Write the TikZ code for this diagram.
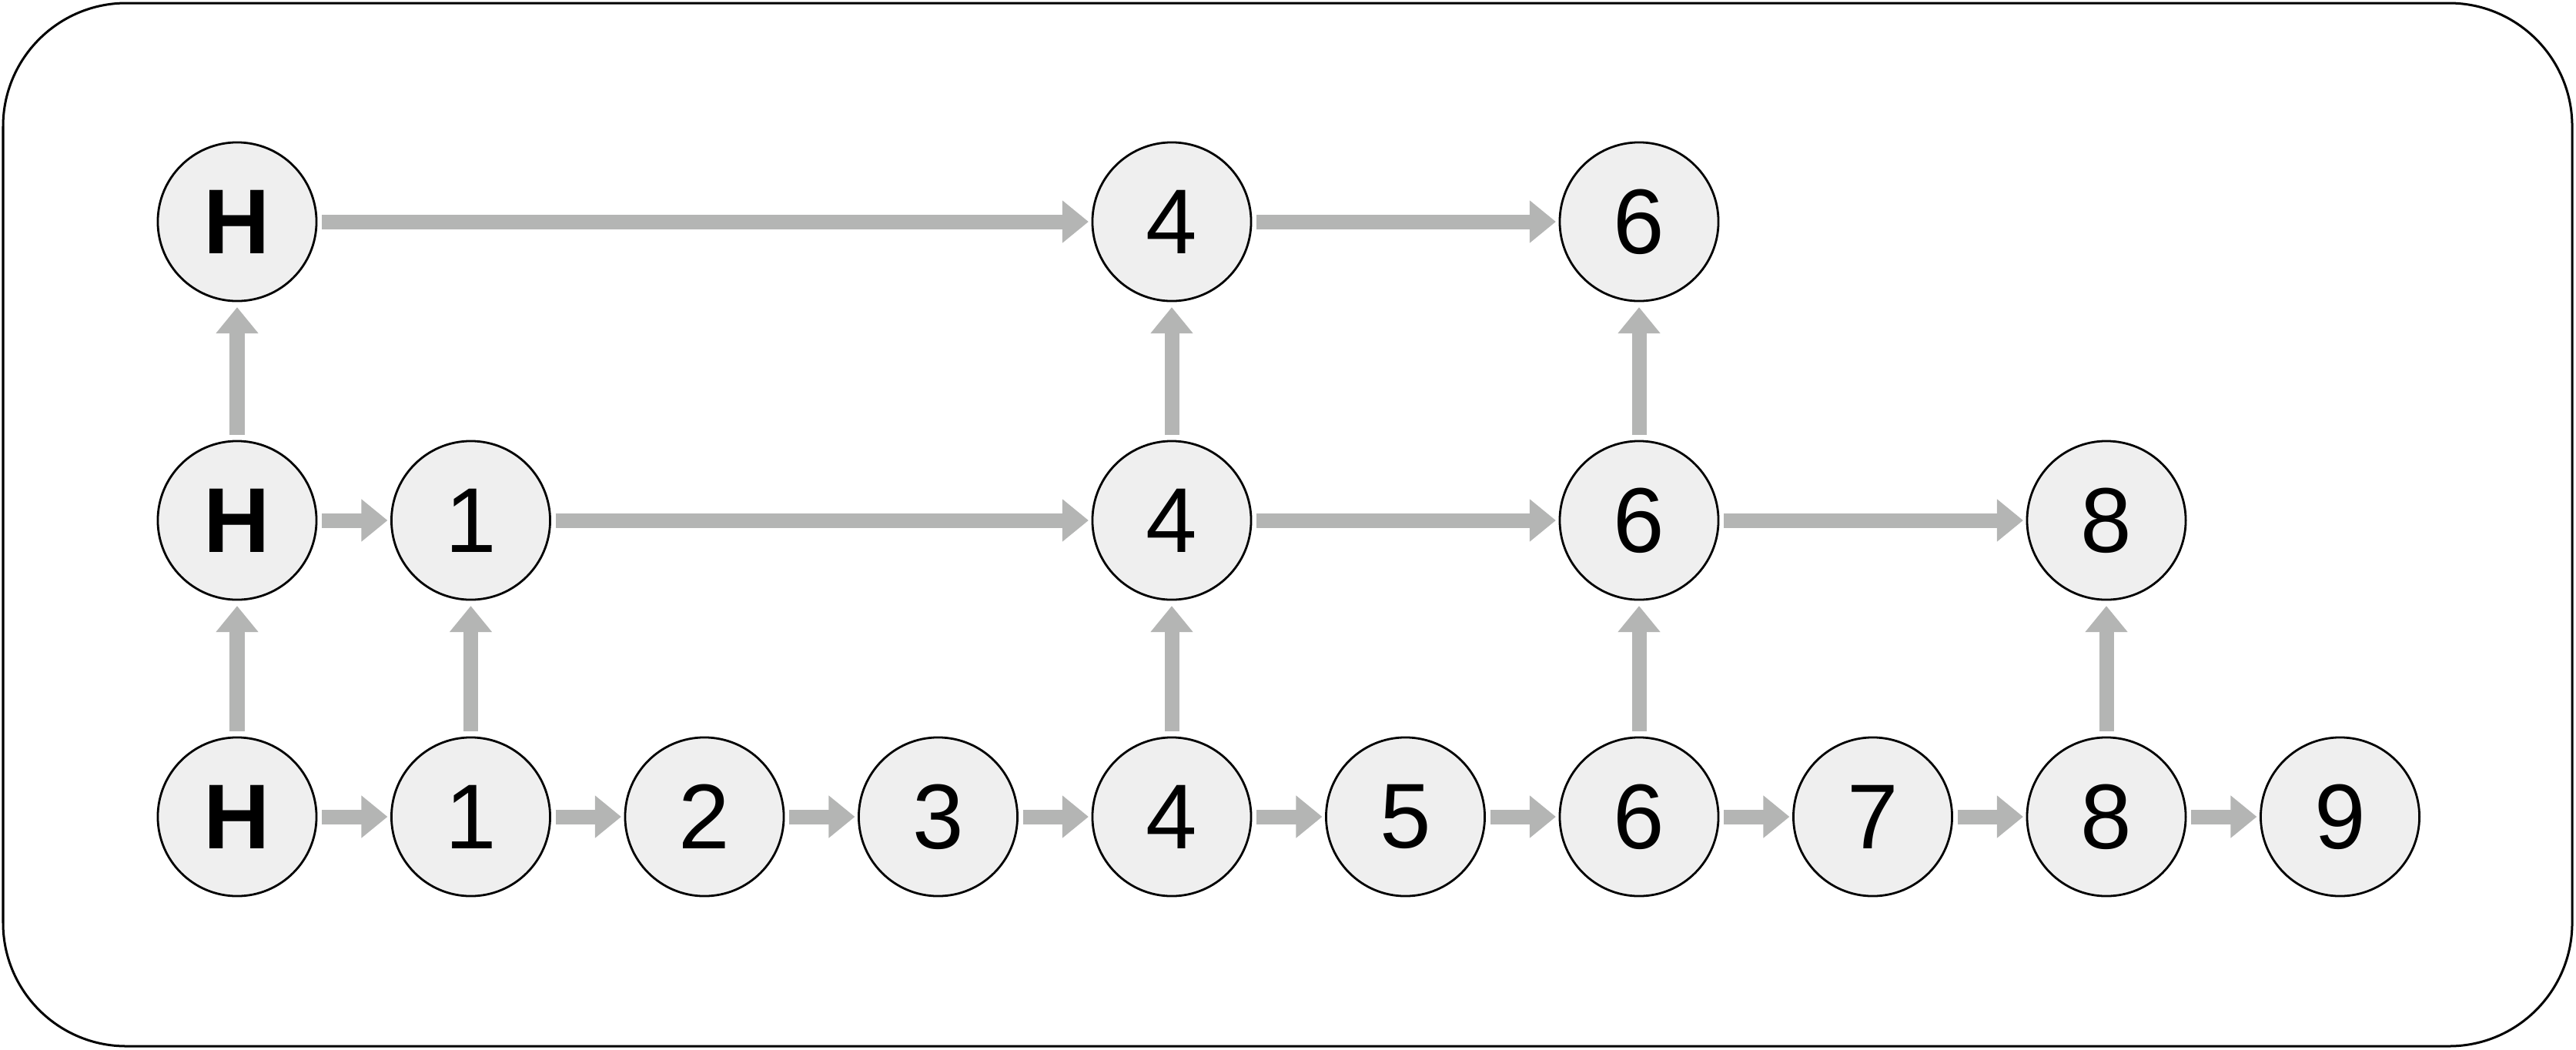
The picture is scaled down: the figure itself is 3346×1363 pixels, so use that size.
\documentclass[tikz,border=0pt]{standalone}
\usepackage{fontspec}
\setmainfont{Liberation Sans}
\usetikzlibrary{arrows.meta}
\definecolor{nodefill}{RGB}{239,239,239}
\definecolor{linkgray}{RGB}{180,181,180}
\begin{document}
\begin{tikzpicture}[x=0.01cm,y=-0.01cm,
  cell/.style={circle,draw=black,line width=0.028cm,fill=nodefill,
    minimum size=2.06cm,inner sep=0pt,outer sep=0pt,
    font=\fontsize{34}{40}\selectfont},
  head/.style={cell,font=\fontsize{34}{40}\selectfont\bfseries},
  link/.style={draw=linkgray,line width=0.19cm,
    -{Triangle[length=0.34cm,width=0.53cm]},
    shorten <=0.07cm,shorten >=0.05cm}]
\useasboundingbox (0,0) rectangle (3346,1363);
\draw[line width=0.03cm,rounded corners=1.6cm] (4,4) rectangle (3341,1359);

% bottom level: every element
\node[head] (b0) at (308,1061) {H};
\foreach \i/\xx in {1/611.5,2/915,3/1218.5,4/1522,5/1825.5,6/2129,7/2432.5,8/2736,9/3039.5}
  \node[cell] (b\i) at (\xx,1061) {\i};

% middle level
\node[head] (m0) at (308,676) {H};
\node[cell] (m1) at (611.5,676) {1};
\node[cell] (m4) at (1522,676) {4};
\node[cell] (m6) at (2129,676) {6};
\node[cell] (m8) at (2736,676) {8};

% top level
\node[head] (t0) at (308,288) {H};
\node[cell] (t4) at (1522,288) {4};
\node[cell] (t6) at (2129,288) {6};

% horizontal links
\foreach \a/\b in {0/1,1/2,2/3,3/4,4/5,5/6,6/7,7/8,8/9}
  \draw[link] (b\a) -- (b\b);
\foreach \a/\b in {0/1,1/4,4/6,6/8}
  \draw[link] (m\a) -- (m\b);
\foreach \a/\b in {0/4,4/6}
  \draw[link] (t\a) -- (t\b);

% vertical links
\foreach \a in {0,1,4,6,8}
  \draw[link,shorten <=0.08cm,shorten >=0.08cm] (b\a) -- (m\a);
\foreach \a in {0,4,6}
  \draw[link,shorten <=0.08cm,shorten >=0.08cm] (m\a) -- (t\a);
\end{tikzpicture}
\end{document}
